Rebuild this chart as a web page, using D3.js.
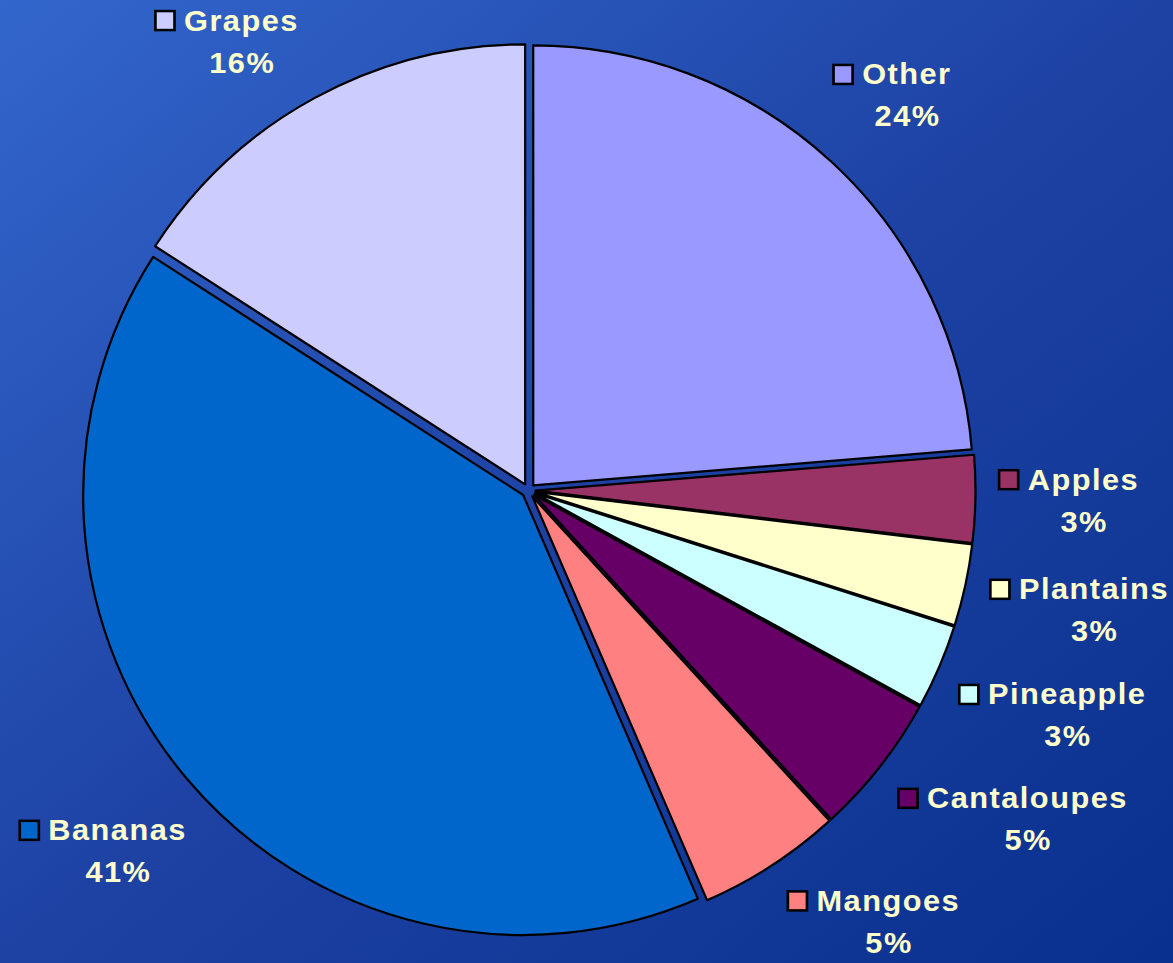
<!DOCTYPE html>
<html>
<head>
<meta charset="utf-8">
<script src="https://cdn.jsdelivr.net/npm/d3@7"></script>
<style>
  html, body { margin: 0; padding: 0; overflow: hidden; }
  svg { display: block; }
  .lbl text { font-family: "Liberation Sans", Arial, sans-serif; font-weight: bold; font-size: 29px; letter-spacing: 1.4px; fill: #ffffcc; }
</style>
</head>
<body>
<div id="chart"></div>
<script>
// fruit share, clockwise from 12 o'clock
const fruits = ["Other", "Apples", "Plantains", "Pineapple", "Cantaloupes", "Mangoes", "Bananas", "Grapes"];
const shares = [23.7, 3.2, 3.0, 3.1, 5.2, 5.3, 40.6, 15.9];
const fills = ["#9999ff", "#993366", "#ffffcc", "#ccffff", "#660066", "#ff8080", "#0066cc", "#ccccff"];

const W = 1173, H = 963;
const cx = 528.5, cy = 490.5, radius = 440;
const explode = 7;     // every slice pulled out a little
const labelR = 470;    // labels sit just outside this ring
const edge = 4;        // keep labels inside the picture
const rowGap = 28;     // min vertical space between labels on one side
const sx = 1.06;       // labels are drawn a bit wide

const svg = d3.select("#chart").append("svg")
    .attr("width", W)
    .attr("height", H);

const grad = svg.append("defs").append("linearGradient")
    .attr("id", "bg")
    .attr("x1", "0").attr("y1", "0")
    .attr("x2", "1").attr("y2", "1");
grad.append("stop").attr("offset", "0%").attr("stop-color", "#3366cc");
grad.append("stop").attr("offset", "50%").attr("stop-color", "#1d42a4");
grad.append("stop").attr("offset", "100%").attr("stop-color", "#09308e");

svg.append("rect")
    .attr("width", W)
    .attr("height", H)
    .attr("fill", "url(#bg)");

const color = d3.scaleOrdinal().domain(fruits).range(fills);
const total = d3.sum(shares);
const pct = d3.format(".0%");

const data = fruits.map((f, i) => ({ name: f, value: shares[i] }));
const arcs = d3.pie()
    .sort(null)
    .value(d => d.value)
    .startAngle(0)
    .endAngle(2 * Math.PI)(data);

const arc = d3.arc().innerRadius(0).outerRadius(radius);

const pie = svg.append("g").attr("transform", `translate(${cx},${cy})`);
pie.selectAll("path")
    .data(arcs)
    .join("path")
    .attr("d", arc)
    .attr("fill", d => color(d.data.name))
    .attr("stroke", "#000")
    .attr("stroke-width", 2.2)
    .attr("stroke-linejoin", "round")
    .attr("transform", d => {
        const a = (d.startAngle + d.endAngle) / 2;
        return `translate(${explode * Math.sin(a)},${-explode * Math.cos(a)})`;
    });

// labels: swatch + name, percentage centred below the name
const labels = svg.append("g").selectAll("g.lbl")
    .data(arcs)
    .join("g")
    .attr("class", "lbl");

labels.each(function (d) {
    const g = d3.select(this);
    g.append("rect")
        .attr("x", 0).attr("y", -19.5)
        .attr("width", 18).attr("height", 19)
        .attr("fill", color(d.data.name))
        .attr("stroke", "#000")
        .attr("stroke-width", 2.5);
    const name = g.append("text")
        .attr("x", 27).attr("y", 0)
        .text(d.data.name);
    const w = name.node().getComputedTextLength();
    g.append("text")
        .attr("x", 27 + w / 2 + 0.7).attr("y", 42)
        .attr("text-anchor", "middle")
        .text(pct(d.data.value / total));
    const b = this.getBBox();
    d.bb = { x: b.x * sx, y: b.y, width: b.width * sx, height: b.height };
    d.theta = (d.startAngle + d.endAngle) / 2;
    d.dx = 0;
});

function boxAt(d) {
    const s = Math.sin(d.theta), c = -Math.cos(d.theta);
    const dist = labelR + 0.5 * (d.bb.width * Math.abs(s) + d.bb.height * Math.abs(c));
    const mx = cx + s * dist + d.dx, my = cy + c * dist;
    return { x0: mx - d.bb.width / 2, x1: mx + d.bb.width / 2, y0: my - d.bb.height / 2, y1: my + d.bb.height / 2 };
}

const step = Math.PI / 720;

arcs.forEach(d => {
    // off the top or bottom: slide round the circle toward the side
    const target = d.theta < Math.PI ? Math.PI / 2 : 3 * Math.PI / 2;
    let n = 0, b = boxAt(d);
    while ((b.y0 < edge || b.y1 > H - edge) && n++ < 400) {
        d.theta += d.theta < target ? step : -step;
        b = boxAt(d);
    }
    // off a side: just pull it in
    if (b.x0 < edge) d.dx = edge - b.x0;
    if (b.x1 > W - edge) d.dx = W - edge - b.x1;
    d.box = boxAt(d);
});

// push overlapping labels upward, bottom one first
[arcs.filter(d => d.theta < Math.PI), arcs.filter(d => d.theta >= Math.PI)].forEach(side => {
    side.sort((a, b) => b.box.y1 - a.box.y1);
    for (let i = 1; i < side.length; i++) {
        const below = side[i - 1], d = side[i];
        const dir = d.theta < Math.PI ? -1 : 1;
        let n = 0;
        while (d.box.y1 + rowGap > below.box.y0 && d.box.x1 > below.box.x0 && d.box.x0 < below.box.x1 && n++ < 400) {
            d.theta += dir * step;
            d.box = boxAt(d);
        }
    }
});

labels.attr("transform", d => `translate(${d.box.x0 - d.bb.x},${d.box.y0 - d.bb.y}) scale(${sx},1)`);
</script>
</body>
</html>
